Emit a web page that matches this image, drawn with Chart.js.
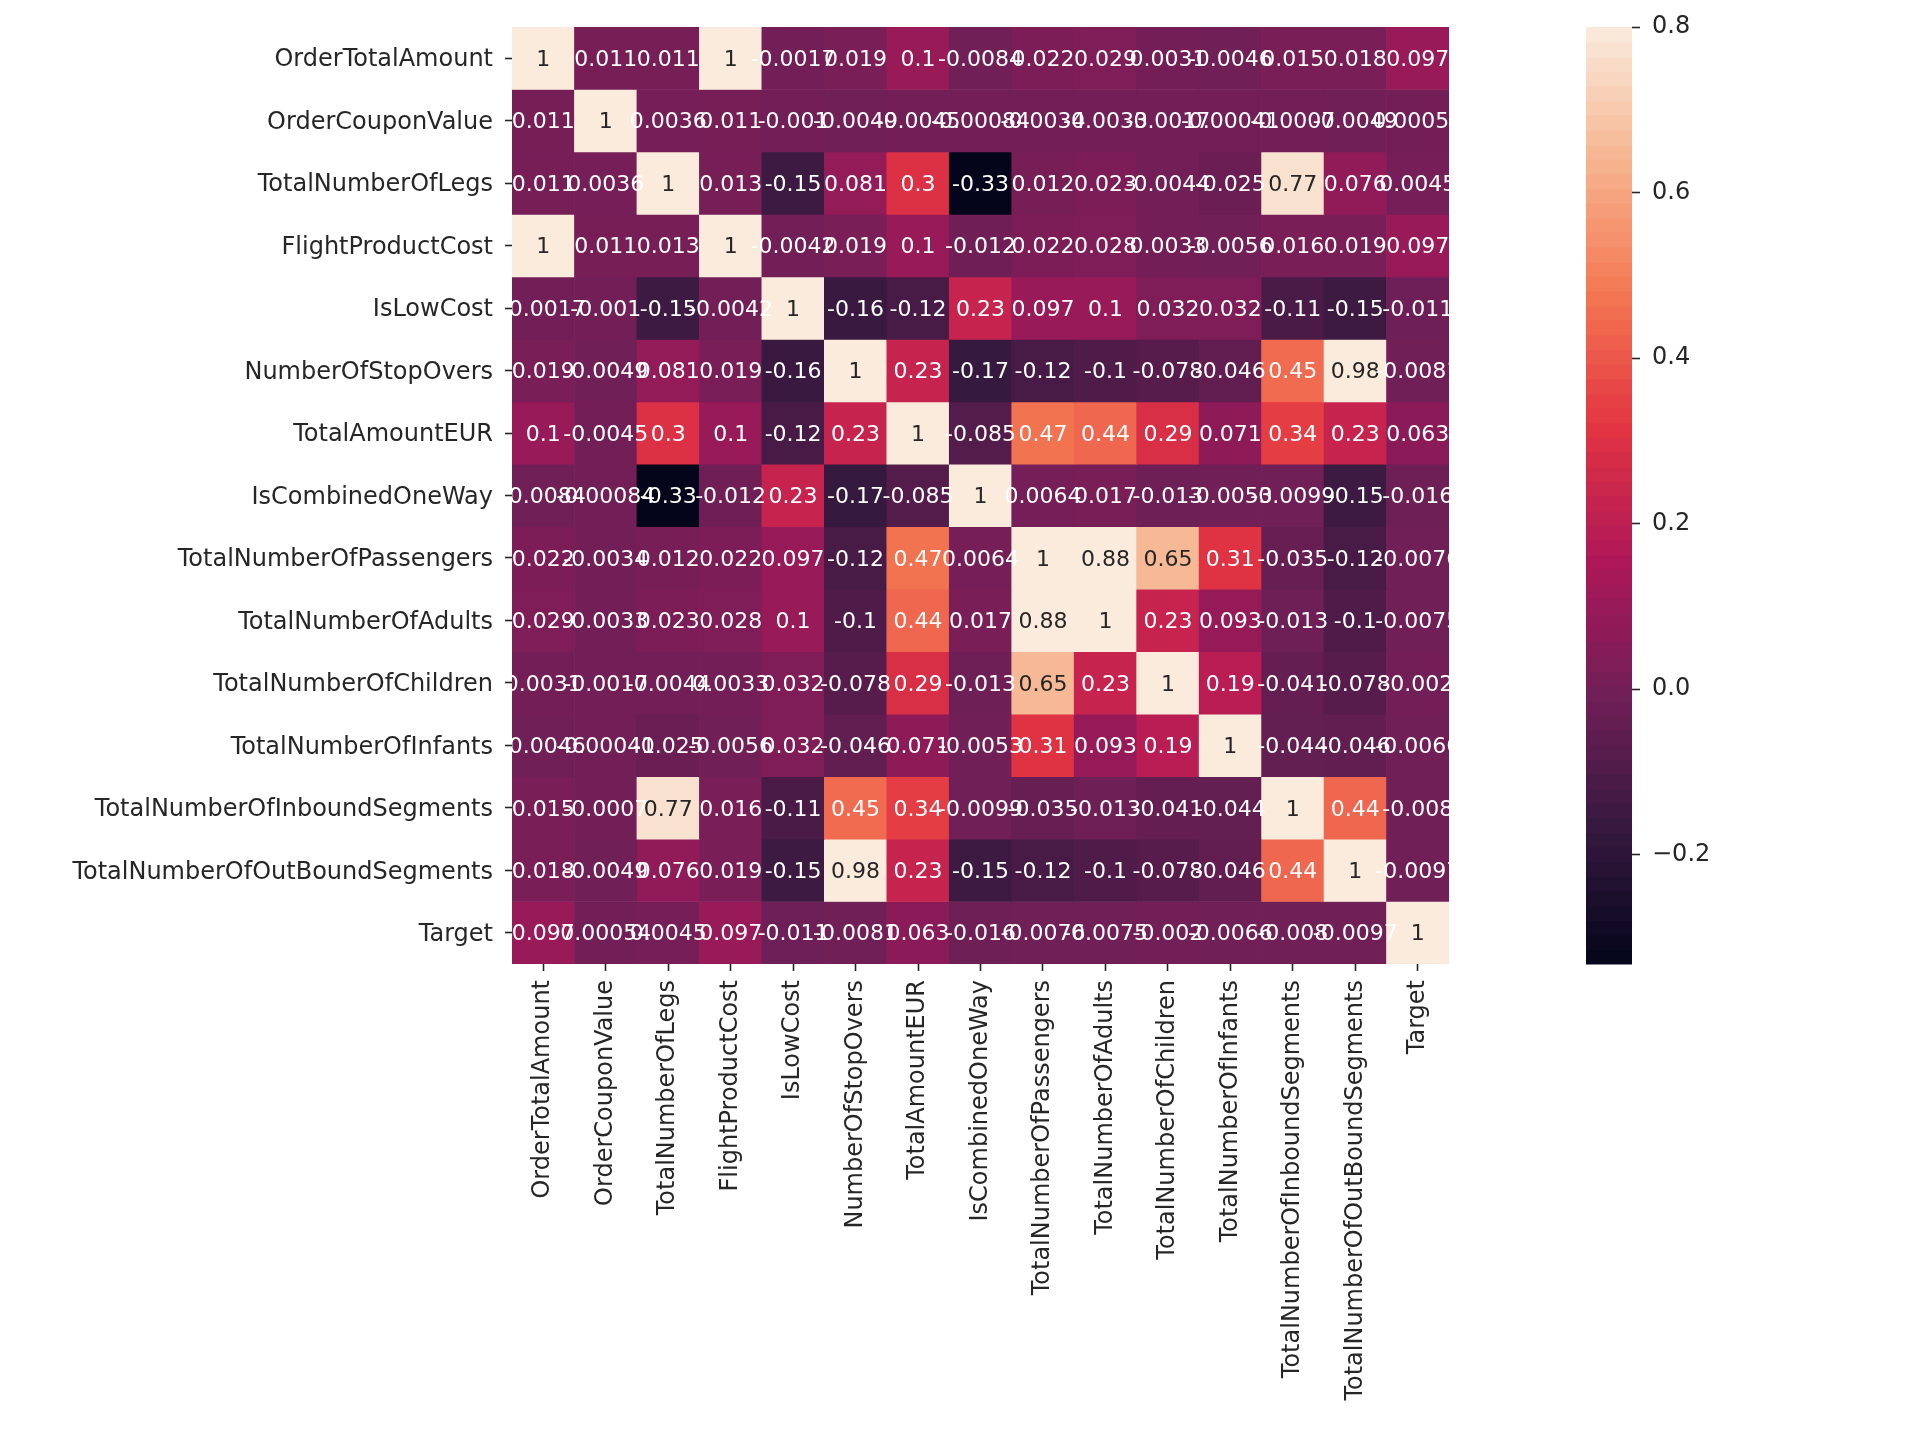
<!DOCTYPE html>
<html><head><meta charset="utf-8">
<script src="https://cdn.jsdelivr.net/npm/chart.js@4/dist/chart.umd.min.js"></script>
<style>
html,body{margin:0;padding:0;background:#fff;width:1920px;height:1432px;overflow:hidden}
#main{position:absolute;left:0;top:0}
#cbar{position:absolute;left:1586px;top:0}
</style></head><body>
<canvas id="main" width="1920" height="1432"></canvas>
<canvas id="cbar" width="220" height="1432"></canvas>
<script>
// ---- categories ----
const labels = ["OrderTotalAmount","OrderCouponValue","TotalNumberOfLegs","FlightProductCost","IsLowCost","NumberOfStopOvers","TotalAmountEUR","IsCombinedOneWay","TotalNumberOfPassengers","TotalNumberOfAdults","TotalNumberOfChildren","TotalNumberOfInfants","TotalNumberOfInboundSegments","TotalNumberOfOutBoundSegments","Target"];

// ---- correlation rows ----
const rowOrderTotalAmount     = [1, 0.011, 0.011, 1, -0.0017, 0.019, 0.1, -0.0084, 0.022, 0.029, 0.0031, -0.0046, 0.015, 0.018, 0.097];
const rowOrderCouponValue     = [0.011, 1, 0.0036, 0.011, -0.001, -0.0049, -0.0045, -0.00084, -0.0034, -0.0033, -0.0017, -0.00041, -0.0007, -0.0049, 0.00054];
const rowTotalNumberOfLegs    = [0.011, 0.0036, 1, 0.013, -0.15, 0.081, 0.3, -0.33, 0.012, 0.023, -0.0044, -0.025, 0.77, 0.076, 0.0045];
const rowFlightProductCost    = [1, 0.011, 0.013, 1, -0.0042, 0.019, 0.1, -0.012, 0.022, 0.028, 0.0033, -0.0056, 0.016, 0.019, 0.097];
const rowIsLowCost            = [-0.0017, -0.001, -0.15, -0.0042, 1, -0.16, -0.12, 0.23, 0.097, 0.1, 0.032, 0.032, -0.11, -0.15, -0.011];
const rowNumberOfStopOvers    = [0.019, -0.0049, 0.081, 0.019, -0.16, 1, 0.23, -0.17, -0.12, -0.1, -0.078, -0.046, 0.45, 0.98, -0.0081];
const rowTotalAmountEUR       = [0.1, -0.0045, 0.3, 0.1, -0.12, 0.23, 1, -0.085, 0.47, 0.44, 0.29, 0.071, 0.34, 0.23, 0.063];
const rowIsCombinedOneWay     = [-0.0084, -0.00084, -0.33, -0.012, 0.23, -0.17, -0.085, 1, 0.0064, 0.017, -0.013, -0.0053, -0.0099, -0.15, -0.016];
const rowTotalPassengers      = [0.022, -0.0034, 0.012, 0.022, 0.097, -0.12, 0.47, 0.0064, 1, 0.88, 0.65, 0.31, -0.035, -0.12, -0.0076];
const rowTotalAdults          = [0.029, -0.0033, 0.023, 0.028, 0.1, -0.1, 0.44, 0.017, 0.88, 1, 0.23, 0.093, -0.013, -0.1, -0.0075];
const rowTotalChildren        = [0.0031, -0.0017, -0.0044, 0.0033, 0.032, -0.078, 0.29, -0.013, 0.65, 0.23, 1, 0.19, -0.041, -0.078, -0.002];
const rowTotalInfants         = [-0.0046, -0.00041, -0.025, -0.0056, 0.032, -0.046, 0.071, -0.0053, 0.31, 0.093, 0.19, 1, -0.044, -0.046, -0.0066];
const rowInboundSegments      = [0.015, -0.0007, 0.77, 0.016, -0.11, 0.45, 0.34, -0.0099, -0.035, -0.013, -0.041, -0.044, 1, 0.44, -0.008];
const rowOutBoundSegments     = [0.018, -0.0049, 0.076, 0.019, -0.15, 0.98, 0.23, -0.15, -0.12, -0.1, -0.078, -0.046, 0.44, 1, -0.0097];
const rowTarget               = [0.097, 0.00054, 0.0045, 0.097, -0.011, -0.0081, 0.063, -0.016, -0.0076, -0.0075, -0.002, -0.0066, -0.008, -0.0097, 1];

// ---- colour scale / colorbar ticks ----
const vMin = -0.332, vMax = 0.8;
const cbarTicks = [-0.2, 0.0, 0.2, 0.4, 0.6, 0.8];
const rocketStops = ["#03051A","#35193E","#701F57","#AD1759","#E13342","#F37651","#F6B48F","#FAEBDD"];

const matrix = [rowOrderTotalAmount,rowOrderCouponValue,rowTotalNumberOfLegs,rowFlightProductCost,rowIsLowCost,rowNumberOfStopOvers,rowTotalAmountEUR,rowIsCombinedOneWay,rowTotalPassengers,rowTotalAdults,rowTotalChildren,rowTotalInfants,rowInboundSegments,rowOutBoundSegments,rowTarget];

const stopRGB = rocketStops.map(h => [parseInt(h.slice(1,3),16), parseInt(h.slice(3,5),16), parseInt(h.slice(5,7),16)]);
function cmapRGB(v){
  let t = (v - vMin) / (vMax - vMin);
  t = Math.max(0, Math.min(1, t));
  const n = stopRGB.length - 1;
  const p = t * n;
  const k = Math.min(n - 1, Math.floor(p));
  const f = p - k;
  const a = stopRGB[k], b = stopRGB[k+1];
  return [0,1,2].map(c => Math.round(a[c] + (b[c]-a[c]) * f));
}
function cmap(v){ const c = cmapRGB(v); return `rgb(${c[0]},${c[1]},${c[2]})`; }
function textColor(v){
  const c = cmapRGB(v).map(x => { x /= 255; return x <= 0.03928 ? x/12.92 : Math.pow((x+0.055)/1.055, 2.4); });
  const lum = 0.2126*c[0] + 0.7152*c[1] + 0.0722*c[2];
  return lum > 0.408 ? '#262626' : '#ffffff';
}
function fmt(v){ return Number(v.toPrecision(2)).toString(); }

Chart.defaults.font.family = '"DejaVu Sans", sans-serif';
Chart.defaults.color = '#262626';
const TICK = '#262626';

const annotPlugin = {
  id: 'annot',
  afterDatasetsDraw(chart){
    const ctx = chart.ctx, a = chart.chartArea;
    ctx.save();
    ctx.beginPath(); ctx.rect(a.left, a.top, a.right - a.left, a.bottom - a.top); ctx.clip();
    ctx.font = '22px "DejaVu Sans"';
    ctx.textAlign = 'center'; ctx.textBaseline = 'middle';
    matrix.forEach((row, i) => {
      const meta = chart.getDatasetMeta(i);
      row.forEach((v, j) => {
        const p = meta.data[j].getCenterPoint();
        ctx.fillStyle = textColor(v);
        ctx.fillText(fmt(v), p.x, p.y + 2);
      });
    });
    ctx.restore();
  }
};

new Chart(document.getElementById('main'), {
  type: 'bar',
  data: {
    labels: labels,
    datasets: matrix.map((row, i) => ({
      label: labels[i],
      data: row.map(() => 1),
      backgroundColor: row.map(v => cmap(v)),
      borderWidth: 0,
      barPercentage: 1,
      categoryPercentage: 1,
      stack: 'rows'
    }))
  },
  options: {
    responsive: false, animation: false, events: [],
    layout: { padding: { top: 27, right: 471, left: 0, bottom: 0 } },
    plugins: { legend: { display: false }, tooltip: { enabled: false } },
    scales: {
      x: {
        stacked: true, offset: true,
        grid: { display: true, drawOnChartArea: false, drawTicks: true, tickLength: 7, tickWidth: 1.6, tickColor: TICK, offset: false },
        border: { display: false },
        ticks: { autoSkip: false, maxRotation: 90, minRotation: 90, padding: 9, color: '#262626', font: { size: 24 } },
        afterFit(s){ s.height = 468; }
      },
      y: {
        type: 'linear', stacked: true, min: 0, max: 15, reverse: true,
        grid: { display: true, drawOnChartArea: false, drawTicks: true, tickLength: 7, tickWidth: 1.6, tickColor: TICK },
        border: { display: false },
        ticks: { padding: 12, labelOffset: 2, color: '#262626', font: { size: 24 }, callback: (v) => labels[Math.floor(v)] },
        afterBuildTicks(s){ s.ticks = labels.map((_, i) => ({ value: i + 0.5 })); },
        afterFit(s){ s.width = 512; }
      }
    }
  },
  plugins: [annotPlugin]
});

const cbarPlugin = {
  id: 'cbarBands',
  beforeDatasetsDraw(chart){
    const ctx = chart.ctx, a = chart.chartArea, ys = chart.scales.y;
    const N = 64;
    ctx.save();
    for (let k = 0; k < N; k++){
      const v0 = vMin + (vMax - vMin) * k / N;
      const v1 = vMin + (vMax - vMin) * (k + 1) / N;
      const yTop = ys.getPixelForValue(v1), yBot = ys.getPixelForValue(v0);
      ctx.fillStyle = cmap((v0 + v1) / 2);
      ctx.fillRect(a.left, Math.floor(yTop), a.right - a.left, Math.ceil(yBot) - Math.floor(yTop) + 0.5);
    }
    ctx.restore();
  }
};

new Chart(document.getElementById('cbar'), {
  type: 'scatter',
  data: { datasets: [{ data: [] }] },
  options: {
    responsive: false, animation: false, events: [],
    layout: { padding: { top: 27, bottom: 468, left: 0, right: 0 } },
    plugins: { legend: { display: false }, tooltip: { enabled: false } },
    scales: {
      x: { display: false, min: 0, max: 1 },
      y: {
        position: 'right', min: vMin, max: vMax,
        grid: { display: true, drawOnChartArea: false, drawTicks: true, tickLength: 8, tickWidth: 1.6, tickColor: TICK },
        border: { display: false },
        ticks: { padding: 12, color: '#262626', font: { size: 24 }, callback: (v) => v.toFixed(1).replace('-', '\u2212') },
        afterBuildTicks(s){ s.ticks = cbarTicks.map(v => ({ value: v })); },
        afterFit(s){ s.width = 174; }
      }
    }
  },
  plugins: [cbarPlugin]
});
</script>
</body></html>
